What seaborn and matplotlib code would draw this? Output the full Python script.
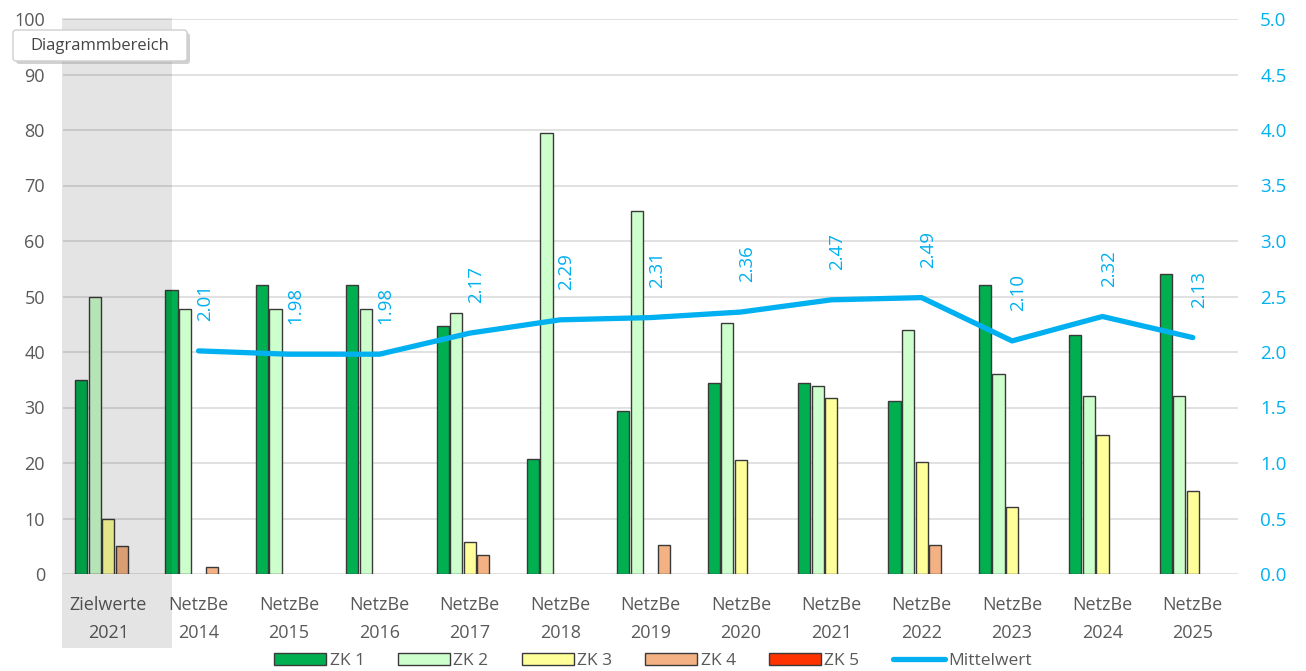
import numpy as np
import pandas as pd
import matplotlib
matplotlib.use("Agg")
import matplotlib.pyplot as plt
from matplotlib.patches import Rectangle, FancyBboxPatch
from matplotlib.lines import Line2D
from matplotlib.transforms import IdentityTransform
import seaborn as sns

# ---- data -------------------------------------------------------------
categories = ["Zielwerte\n2021", "NetzBe\n2014", "NetzBe\n2015", "NetzBe\n2016",
              "NetzBe\n2017", "NetzBe\n2018", "NetzBe\n2019", "NetzBe\n2020",
              "NetzBe\n2021", "NetzBe\n2022", "NetzBe\n2023", "NetzBe\n2024",
              "NetzBe\n2025"]
series = ["ZK 1", "ZK 2", "ZK 3", "ZK 4", "ZK 5"]
zk1 = [35.0, 51.2, 52.1, 52.1, 44.7, 20.7, 29.4, 34.5, 34.5, 31.2, 52.1, 43.1, 54.1]
zk2 = [50.0, 47.7, 47.7, 47.7, 47.0, 79.4, 65.4, 45.2, 33.9, 44.0, 36.0, 32.0, 32.0]
zk3 = [10.0, 0.0, 0.0, 0.0, 5.7, 0.0, 0.0, 20.5, 31.7, 20.2, 12.1, 25.0, 15.0]
zk4 = [5.0, 1.3, 0.0, 0.0, 3.5, 0.0, 5.2, 0.0, 0.0, 5.3, 0.0, 0.0, 0.0]
zk5 = [0.0] * 13
mittel_categories = categories[1:]
mittelwert = [2.01, 1.98, 1.98, 2.17, 2.29, 2.31, 2.36, 2.47, 2.49, 2.10, 2.32, 2.13]
left_ticks = list(range(0, 101, 10))
right_ticks = [0.0, 0.5, 1.0, 1.5, 2.0, 2.5, 3.0, 3.5, 4.0, 4.5, 5.0]

colors = {"ZK 1": "#00B050", "ZK 2": "#CCFFCC", "ZK 3": "#FFFF99",
          "ZK 4": "#F4B183", "ZK 5": "#FF3300"}
line_color = "#00B0F0"
text_gray = "#595959"

df = pd.DataFrame({
    "Kategorie": np.repeat(categories, len(series)),
    "Klasse": series * len(categories),
    "Wert": np.column_stack([zk1, zk2, zk3, zk4, zk5]).ravel(),
})

# ---- figure -----------------------------------------------------------
sns.set_style("white")
plt.rcParams["font.family"] = ["Open Sans", "DejaVu Sans"]

W, H = 1306, 671
fig = plt.figure(figsize=(W / 100, H / 100), dpi=100)
ax = fig.add_axes([63 / W, 1 - 574 / H, 1175 / W, 555 / H])

sns.barplot(data=df, x="Kategorie", y="Wert", hue="Klasse",
            order=categories, hue_order=series, palette=colors,
            width=0.75, gap=0.1, saturation=1, edgecolor="#3A3A3A",
            linewidth=1.0, legend=False, errorbar=None, ax=ax, zorder=2)
# empty classes draw nothing
for p in ax.patches:
    if p.get_height() == 0:
        p.set_linewidth(0)

ax.set_xlim(-0.5, len(categories) - 0.5)
ax.set_ylim(0, 100)
ax.set_yticks(left_ticks)
ax.set_xlabel("")
ax.set_ylabel("")
ax.set_axisbelow(True)
ax.yaxis.grid(True, color="#D9D9D9", linewidth=1.1)
ax.xaxis.grid(False)
for s in ax.spines.values():
    s.set_visible(False)
ax.tick_params(axis="y", length=0, pad=13, labelsize=13, labelcolor=text_gray)
ax.tick_params(axis="x", length=0, pad=16, labelsize=13, labelcolor=text_gray)
for lab in ax.get_xticklabels():
    lab.set_linespacing(1.7)

# ---- mean line on secondary axis -------------------------------------
ax2 = ax.twinx()
xpos = [categories.index(c) for c in mittel_categories]
sns.lineplot(x=xpos, y=mittelwert, ax=ax2, color=line_color, linewidth=3.8,
             solid_capstyle="round", solid_joinstyle="round")
ax2.set_ylim(0, 5)
ax2.set_yticks(right_ticks)
ax2.set_yticklabels([f"{t:.1f}" for t in right_ticks])
ax2.set_xlim(-0.5, len(categories) - 0.5)
ax2.set_ylabel("")
ax2.grid(False)
for s in ax2.spines.values():
    s.set_visible(False)
ax2.tick_params(axis="y", length=0, pad=16, labelsize=13.5, labelcolor=line_color)

for x, v in zip(xpos, mittelwert):
    ax2.annotate(f"{v:.2f}", (x, v), xytext=(4.5, 21.5),
                 textcoords="offset points", rotation=90, ha="center",
                 va="bottom", color=line_color, fontsize=13.5)

# ---- legend -----------------------------------------------------------
handles = [Rectangle((0, 0), 1, 1, facecolor=colors[s], edgecolor="#3A3A3A",
                     linewidth=1.0) for s in series]
handles.append(Line2D([0], [0], color=line_color, linewidth=3.8,
                      solid_capstyle="round"))
labels = series + ["Mittelwert"]
fig.legend(handles, labels, loc="center", bbox_to_anchor=(0.5, 1 - 661 / H),
           ncol=6, frameon=False, fontsize=12.5, handlelength=3.0,
           handleheight=0.7, handletextpad=0.2, columnspacing=1.9,
           labelcolor=text_gray)

# ---- highlighted target column ---------------------------------------
fig.add_artist(Rectangle((62 / W, 1 - 648 / H), 110 / W, 630 / H,
                         transform=fig.transFigure, facecolor="black",
                         alpha=0.105, linewidth=0, zorder=10))

# ---- hover tooltip ----------------------------------------------------
ident = IdentityTransform()
fig.add_artist(FancyBboxPatch((16, H - 64), 174, 31,
                              boxstyle="round,pad=0,rounding_size=3",
                              transform=ident, facecolor="#9A9A9A",
                              alpha=0.45, linewidth=0, zorder=11))
fig.add_artist(FancyBboxPatch((13, H - 61), 174, 31,
                              boxstyle="round,pad=0,rounding_size=3",
                              transform=ident, facecolor="white",
                              edgecolor="#CFCFCF", linewidth=1.0, zorder=12))
fig.text(100 / W, 1 - 46 / H, "Diagrammbereich", ha="center", va="center",
         fontsize=12, color="#454545", zorder=13)

fig.savefig("out.png", dpi=100)
